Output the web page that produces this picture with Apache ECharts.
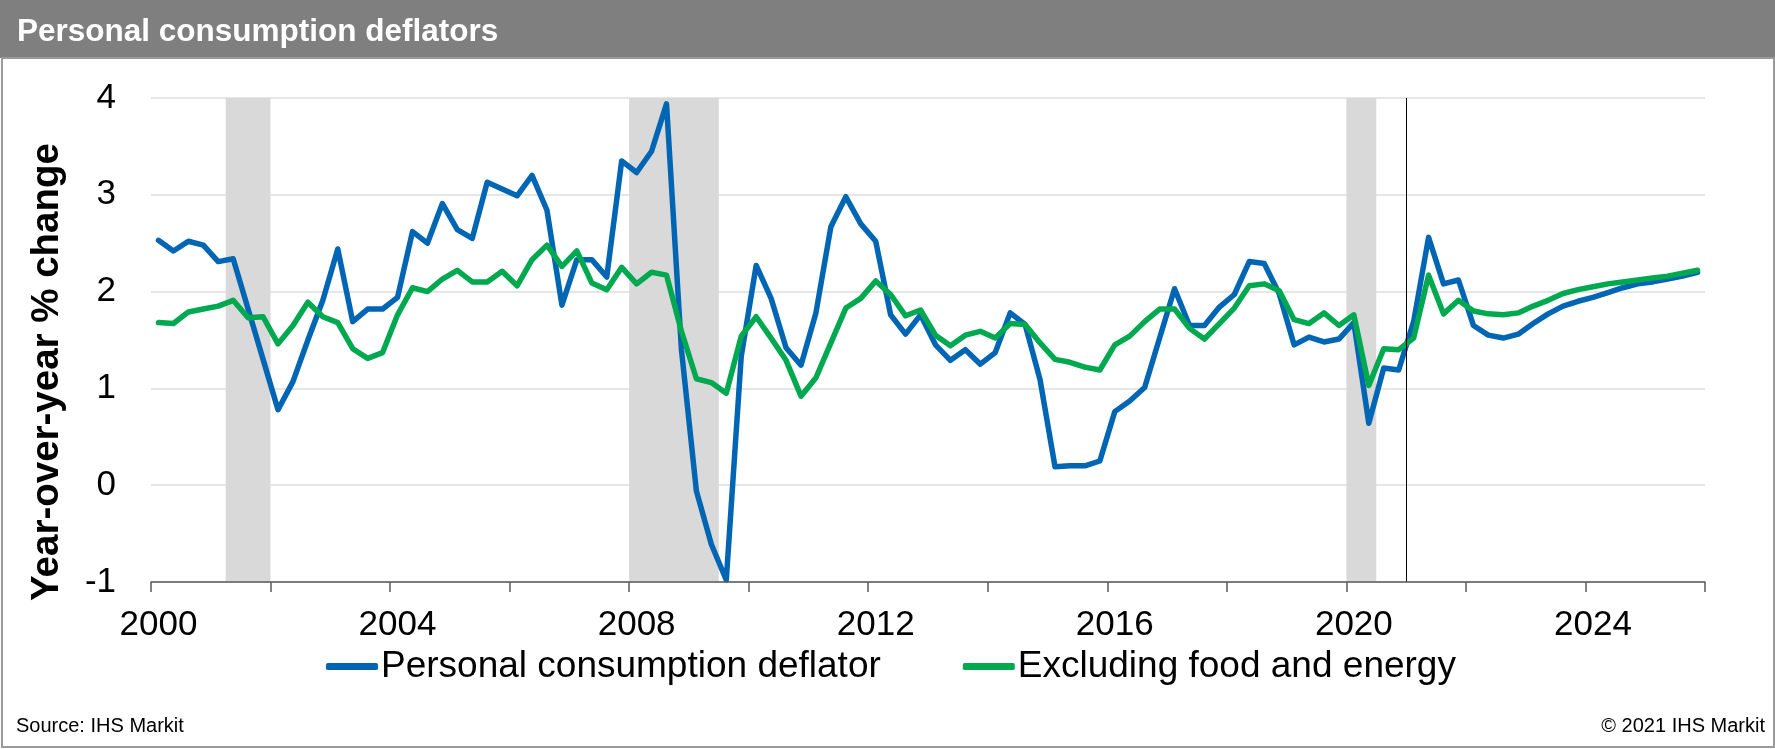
<!DOCTYPE html>
<html>
<head>
<meta charset="utf-8">
<title>Personal consumption deflators</title>
<script src="https://cdn.jsdelivr.net/npm/echarts@6/dist/echarts.min.js"></script>
<style>
  html, body { margin: 0; padding: 0; background: #fff; }
  #chart { width: 1775px; height: 749px; }
</style>
</head>
<body>
<div id="chart"></div>
<script>
// quarters 2000Q1 .. 2025Q4
const years = [];
for (let y = 2000; y <= 2025; y++) years.push(y);
const quarters = [];
years.forEach(y => ['Q1', 'Q2', 'Q3', 'Q4'].forEach(q => quarters.push(y + q)));

const xTickLabels = ['2000', '2004', '2008', '2012', '2016', '2020', '2024'];
const yTicks = [-1, 0, 1, 2, 3, 4];

// Year-over-year % change
const pceDeflator = [
  2.53, 2.42, 2.52, 2.48, 2.31, 2.34, 1.82, 1.30,
  0.78, 1.07, 1.50, 1.91, 2.44, 1.69, 1.82, 1.82,
  1.94, 2.62, 2.50, 2.91, 2.64, 2.55, 3.13, 3.06,
  2.99, 3.20, 2.84, 1.86, 2.33, 2.33, 2.15, 3.35,
  3.23, 3.45, 3.94, 1.40, -0.06, -0.61, -0.98, 1.33,
  2.27, 1.93, 1.42, 1.24, 1.78, 2.67, 2.98, 2.70,
  2.52, 1.76, 1.56, 1.76, 1.45, 1.29, 1.40, 1.25,
  1.37, 1.78, 1.66, 1.09, 0.19, 0.20, 0.20, 0.25,
  0.76, 0.87, 1.01, 1.52, 2.03, 1.65, 1.65, 1.84,
  1.97, 2.31, 2.29, 1.98, 1.45, 1.53, 1.48, 1.51,
  1.68, 0.64, 1.21, 1.19, 1.69, 2.56, 2.08, 2.12,
  1.65, 1.55, 1.52, 1.56, 1.67, 1.77, 1.85, 1.90,
  1.94, 1.99, 2.04, 2.08, 2.10, 2.13, 2.16, 2.20
];
const coreDeflator = [
  1.68, 1.67, 1.79, 1.82, 1.85, 1.91, 1.73, 1.74,
  1.46, 1.65, 1.89, 1.74, 1.68, 1.41, 1.31, 1.37,
  1.76, 2.04, 2.00, 2.13, 2.22, 2.10, 2.10, 2.21,
  2.06, 2.33, 2.48, 2.26, 2.42, 2.09, 2.02, 2.25,
  2.08, 2.20, 2.17, 1.59, 1.10, 1.06, 0.95, 1.54,
  1.74, 1.52, 1.29, 0.92, 1.11, 1.47, 1.83, 1.93,
  2.11, 1.97, 1.75, 1.81, 1.55, 1.44, 1.55, 1.59,
  1.52, 1.67, 1.66, 1.47, 1.30, 1.27, 1.22, 1.19,
  1.45, 1.54, 1.69, 1.82, 1.82, 1.62, 1.51, 1.67,
  1.83, 2.06, 2.08, 2.01, 1.71, 1.67, 1.78, 1.65,
  1.76, 1.03, 1.41, 1.40, 1.52, 2.17, 1.77, 1.91,
  1.80, 1.77, 1.76, 1.78, 1.85, 1.91, 1.98, 2.02,
  2.05, 2.08, 2.10, 2.12, 2.14, 2.16, 2.19, 2.22
];

// recession periods (start, end in fractional years) and forecast start
const recessions = [[2001.25, 2002.0], [2008.0, 2009.5], [2020.0, 2020.5]];
const forecastStart = 2021.0;

const chart = echarts.init(document.getElementById('chart'));
const FONT = 'Arial, "Liberation Sans", sans-serif';

const option = {
  animation: false,
  backgroundColor: '#fff',
  title: {
    text: 'Personal consumption deflators',
    left: 12,
    top: 11,
    textStyle: { color: '#fff', fontSize: 31.5, fontWeight: 'bold', fontFamily: FONT }
  },
  graphic: [
    { type: 'rect', z: -10, shape: { x: 0, y: 0, width: 1775, height: 58 }, style: { fill: '#7f7f7f' } },
    { type: 'rect', z: -10, shape: { x: 2, y: 58, width: 1772, height: 689 }, style: { fill: 'none', stroke: '#9a9a9a', lineWidth: 2 } },
    {
      type: 'text', x: 47, y: 372, rotation: Math.PI / 2,
      style: { text: 'Year-over-year % change', font: 'bold 38.5px ' + FONT, fill: '#000', align: 'center', verticalAlign: 'middle' }
    },
    { type: 'text', x: 16, y: 726, style: { text: 'Source: IHS Markit', font: '20px ' + FONT, fill: '#000', verticalAlign: 'middle' } },
    { type: 'text', x: 1765, y: 726, style: { text: '\u00a9 2021 IHS Markit', font: '20px ' + FONT, fill: '#000', align: 'right', verticalAlign: 'middle' } }
  ],
  legend: {
    left: 321,
    top: 643,
    itemWidth: 52,
    itemHeight: 7,
    itemGap: 82,
    icon: 'roundRect',
    textStyle: { fontSize: 37, color: '#000', fontFamily: FONT, padding: [0, 0, 0, -2] },
    data: ['Personal consumption deflator', 'Excluding food and energy']
  },
  grid: { left: 151, right: 70, top: 98, bottom: 167 },
  xAxis: [
    {
      type: 'category',
      data: quarters,
      boundaryGap: true,
      z: 10,
      axisLine: { show: true, onZero: false, lineStyle: { color: '#595959', width: 1.5 } },
      axisTick: { show: true, interval: 7, length: 10, lineStyle: { color: '#595959', width: 1.5 } },
      axisLabel: {
        interval: 15,
        formatter: (v, i) => xTickLabels[Math.round(i / 16)],
        fontSize: 35, color: '#000', fontFamily: FONT, margin: 26
      },
      splitLine: { show: false }
    },
    { type: 'value', min: 2000, max: 2026, show: false, splitLine: { show: false } }
  ],
  yAxis: {
    type: 'value',
    min: yTicks[0],
    max: yTicks[yTicks.length - 1],
    interval: 1,
    axisLine: { show: false },
    axisTick: { show: false },
    axisLabel: { fontSize: 35, color: '#000', fontFamily: FONT, margin: 35 },
    splitLine: { lineStyle: { color: '#e6e6e6', width: 2 } }
  },
  series: [
    {
      type: 'line',
      xAxisIndex: 1,
      data: [],
      z: 1,
      markArea: {
        silent: true,
        itemStyle: { color: '#d9d9d9' },
        data: recessions.map(r => [{ xAxis: r[0] }, { xAxis: r[1] }])
      },
      markLine: {
        silent: true,
        symbol: 'none',
        label: { show: false },
        lineStyle: { color: '#000', width: 1, type: 'solid' },
        data: [{ xAxis: forecastStart }]
      }
    },
    {
      name: 'Personal consumption deflator',
      type: 'line',
      data: pceDeflator,
      symbol: 'none',
      z: 3,
      color: '#0066b3',
      lineStyle: { color: '#0066b3', width: 5.5, cap: 'round', join: 'round' }
    },
    {
      name: 'Excluding food and energy',
      type: 'line',
      data: coreDeflator,
      symbol: 'none',
      z: 4,
      color: '#00a84f',
      lineStyle: { color: '#00a84f', width: 5.5, cap: 'round', join: 'round' }
    }
  ]
};

chart.setOption(option);
</script>
</body>
</html>
